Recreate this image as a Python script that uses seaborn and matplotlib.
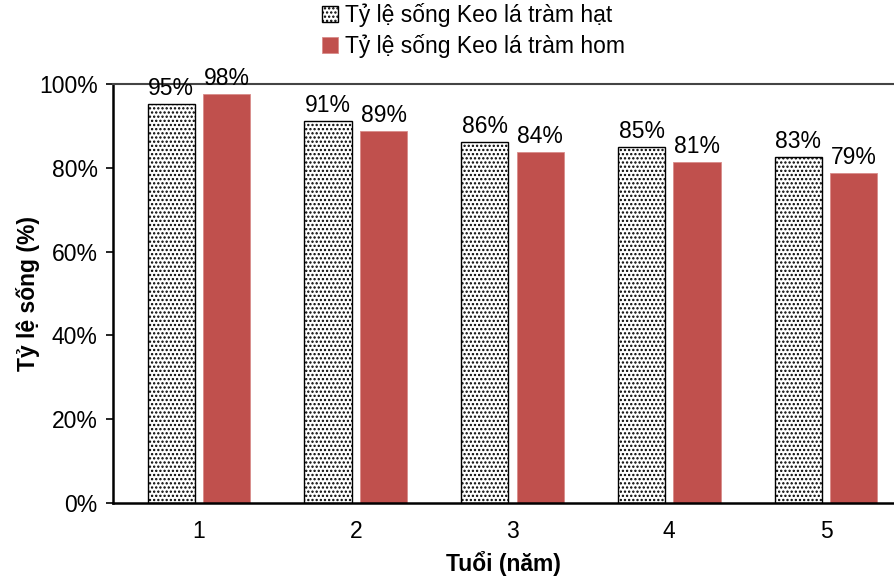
import pandas as pd
import numpy as np
import matplotlib.pyplot as plt
import seaborn as sns

# Data
ages = ["1", "2", "3", "4", "5"]
seed_rate = [0.952, 0.912, 0.862, 0.850, 0.826]
cutting_rate = [0.976, 0.888, 0.838, 0.814, 0.788]
series_names = ["Tỷ lệ sống Keo lá tràm hạt", "Tỷ lệ sống Keo lá tràm hom"]

df = pd.DataFrame({
    "Tuổi": ages * 2,
    "Tỷ lệ": seed_rate + cutting_rate,
    "Loại": [series_names[0]] * len(ages) + [series_names[1]] * len(ages),
})

sns.set_theme(style="white")
plt.rcParams['font.family'] = ['Liberation Sans', 'DejaVu Sans']
plt.rcParams['text.color'] = 'black'
plt.rcParams['axes.labelcolor'] = 'black'
plt.rcParams['xtick.color'] = 'black'
plt.rcParams['ytick.color'] = 'black'
plt.rcParams['hatch.linewidth'] = 1.1

fs = 16.5

fig = plt.figure(figsize=(8.94, 5.79), dpi=100)
ax = fig.add_axes([0.1264, 0.1313, 0.8736, 0.7236])

sns.barplot(
    data=df,
    x="Tuổi",
    y="Tỷ lệ",
    hue="Loại",
    palette=["white", "#C0504D"],
    saturation=1,
    width=0.708,
    gap=0.15,
    legend=False,
    ax=ax
)

# Dotted pattern for the seed series
for bar in ax.containers[0]:
    bar.set_hatch("....")
    bar.set_edgecolor("black")
    bar.set_linewidth(1.0)
for bar in ax.containers[1]:
    bar.set_edgecolor("#D98C8A")
    bar.set_linewidth(0.6)

# Value labels
for cont in ax.containers:
    ax.bar_label(
        cont,
        labels=[f"{round(v.get_height() * 100):.0f}%" for v in cont],
        padding=3,
        fontsize=fs
    )

ax.set_ylim(0, 1.0)
ax.set_xlim(-0.549, 4.434)
ax.set_yticks(np.arange(0, 1.01, 0.2))
ax.set_yticklabels([f"{int(t * 100)}%" for t in np.arange(0, 1.01, 0.2)])

ax.tick_params(axis="y", which="both", left=True, length=5, width=1.2,
               labelsize=fs, color="black", pad=6)
ax.tick_params(axis="x", bottom=False, labelsize=fs, pad=6)

for side in ["left", "bottom"]:
    ax.spines[side].set_color("black")
    ax.spines[side].set_linewidth(1.8)
ax.spines["right"].set_visible(False)
ax.spines["top"].set_color("#444444")
ax.spines["top"].set_linewidth(1.5)

ax.set_xlabel("Tuổi (năm)", fontsize=fs, fontweight="bold", labelpad=6)
ax.set_ylabel("Tỷ lệ sống (%)", fontsize=fs, fontweight="bold", labelpad=-1)

fig.legend(
    handles=list(ax.containers),
    labels=series_names,
    loc="upper center",
    bbox_to_anchor=(0.53, 1.03),
    ncol=1,
    frameon=False,
    fontsize=fs,
    handlelength=0.7,
    handleheight=0.7,
    handletextpad=0.3,
    labelspacing=0.3
)

plt.savefig("out.png", dpi=100)
